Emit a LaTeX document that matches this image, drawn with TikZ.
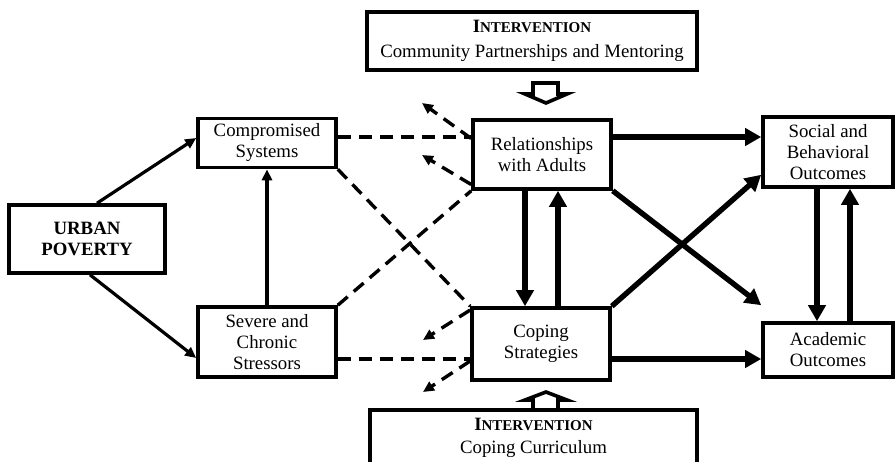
\documentclass[tikz,border=0pt]{standalone}
\usepackage{fontspec}
\setmainfont{Liberation Serif}
\usetikzlibrary{arrows.meta,calc}
\newcommand{\intvtitle}{\textbf{I\fontsize{7.5}{9}\selectfont NTERVENTION}}

\begin{document}
\begin{tikzpicture}[x=0.5pt, y=-0.5pt, >={Triangle[length=8pt,width=8.5pt]}, font=\fontsize{9.4}{10.5}\selectfont]
\tikzstyle{box}=[draw=black, line width=1.8pt, fill=white, align=center, inner sep=0pt]
\tikzstyle{thin}=[->, line width=1.6pt, >={Triangle[length=5.5pt,width=5pt]}]
\tikzstyle{thick}=[->, line width=2.7pt]
\tikzstyle{dashline}=[line width=1.7pt, dash pattern=on 6.5pt off 4pt]
\tikzstyle{back}=[dashline, ->, >={Triangle[length=5.5pt,width=5pt]}]
\tikzstyle{hollow}=[line width=1.8pt, fill=white, line join=miter]
\useasboundingbox (0,0) rectangle (895,461);

% boxes
\node[box, minimum width=78pt, minimum height=34pt] (pov)    at (87,239)  {\textbf{URBAN}\\\textbf{POVERTY}};
\node[box, minimum width=69pt, minimum height=24.5pt] (comp) at (267,143) {Compromised\\Systems};
\node[box, minimum width=69pt, minimum height=35pt] (stress) at (267,342) {Severe and\\Chronic\\Stressors};
\node[box, minimum width=69pt, minimum height=34.5pt] (rel)  at (542,154.5) {Relationships\\with Adults};
\node[box, minimum width=69pt, minimum height=36pt] (cope)   at (541,344) {Coping\\Strategies};
\node[box, minimum width=65pt, minimum height=35pt] (soc)    at (828,152) {Social and\\Behavioral\\Outcomes};
\node[box, minimum width=65pt, minimum height=27pt] (acad)   at (828,350) {Academic\\Outcomes};
\node[box, minimum width=165pt, minimum height=29pt] (itop)  at (532,41)  {\intvtitle\\[2pt]Community Partnerships and Mentoring};
\node[box, minimum width=163.5pt, minimum height=28pt] (ibot) at (533.5,438) {\intvtitle\\[1pt]Coping Curriculum};

% block arrows from the interventions
\draw[hollow] (533,83) -- (558,83) -- (558,94) -- (567,94) -- (546,103) -- (525,94) -- (533,94) -- cycle;
\draw[hollow] (533,410) -- (533,400) -- (525,400) -- (546,392) -- (567,400) -- (558,400) -- (558,410) -- cycle;

% free ends of the dashed arrows
\coordinate (r1) at (422,103);
\coordinate (r2) at (422,155);
\coordinate (c1) at (423,340);
\coordinate (c2) at (423,392);

% poverty paths
\draw[thin] ([xshift=5pt]pov.north) -- ([yshift=2.5pt]comp.west);
\draw[thin] ([xshift=1.5pt]pov.south) -- ([yshift=-8pt]stress.west);
\draw[thin] (stress.north) -- (comp.south);

% dashed links
\draw[dashline] ([yshift=3pt]comp.east) -- ([yshift=8.75pt]rel.west);
\draw[dashline] (comp.south east) -- (cope.north west);
\draw[dashline] (stress.north east) -- (rel.south west);
\draw[dashline] ([yshift=-8.5pt]stress.east) -- ([yshift=-7.5pt]cope.west);
\draw[back] ([yshift=8pt]rel.west) -- (r1);
\draw[back] ([yshift=-15pt]rel.west) -- (r2);
\draw[back] ([yshift=17pt]cope.west) -- (c1);
\draw[back] ([yshift=-8.5pt]cope.west) -- (c2);

% outcomes
\draw[thick] ([yshift=8.75pt]rel.east) -- ([yshift=7.5pt]soc.west);
\draw[thick] (rel.south east) -- ([yshift=8pt]acad.north west);
\draw[thick] (cope.north east) -- ([yshift=7pt]soc.south west);
\draw[thick] ([yshift=-7.5pt]cope.east) -- ([yshift=-4.5pt]acad.west);
\draw[thick] ([xshift=-8.5pt]rel.south) -- ([xshift=-8pt]cope.north);
\draw[thick] ([xshift=8.5pt]cope.north) -- ([xshift=8pt]rel.south);
\draw[thick] ([xshift=-5.5pt]soc.south) -- ([xshift=-5.5pt]acad.north);
\draw[thick] ([xshift=11pt]acad.north) -- ([xshift=11pt]soc.south);
\end{tikzpicture}
\end{document}
